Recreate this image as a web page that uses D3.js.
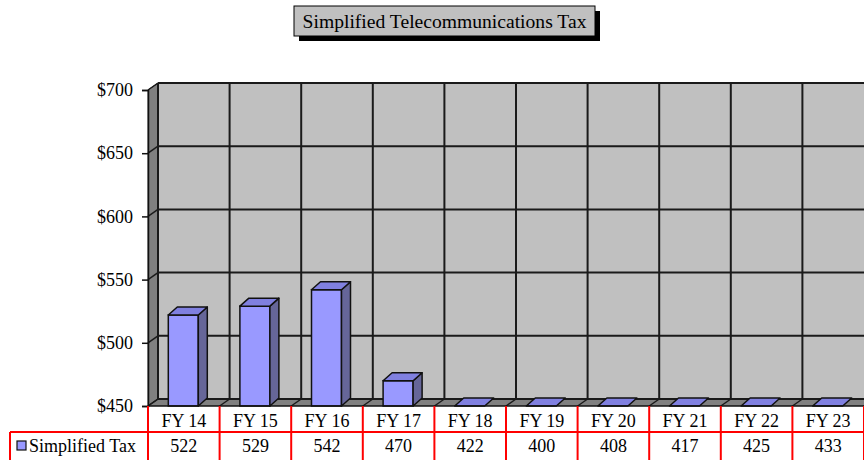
<!DOCTYPE html>
<html>
<head>
<meta charset="utf-8">
<script src="https://cdn.jsdelivr.net/npm/d3@7"></script>
<style>
  body { margin: 0; background: #fff; }
  svg { display: block; }
</style>
</head>
<body>
<div id="chart"></div>
<script>
(function(d3){

  // data
  var categories = ['FY 14', 'FY 15', 'FY 16', 'FY 17', 'FY 18', 'FY 19', 'FY 20', 'FY 21', 'FY 22', 'FY 23'],
      taxValues = [522, 529, 542, 470, 422, 400, 408, 417, 425, 433],
      seriesName = 'Simplified Tax',
      yTicks = [450, 500, 550, 600, 650, 700],
      title = 'Simplified Telecommunications Tax';

  var W = 864, H = 460,
      font = '"Liberation Serif", "Times New Roman", serif',
      wallDx = 10, wallDy = -7,
      barDx = 9, barDy = -8,
      catW = 71.6,
      left = 148;

  var svg = d3.select('#chart').append('svg')
      .attr('width', W)
      .attr('height', H);

  var x = d3.scaleBand()
      .domain(categories)
      .range([left, left + catW * categories.length])
      .paddingInner(0)
      .paddingOuter(0);

  var y = d3.scaleLinear()
      .domain([450, 700])
      .range([406, 90]);

  var y0 = y.domain()[0], y1 = y.domain()[1];
  var right = x.range()[1];

  /**
   * Walls and floor.
   */
  // back wall
  svg.append('rect')
      .attr('x', left + wallDx)
      .attr('y', y(y1) + wallDy)
      .attr('width', right - left + 20)
      .attr('height', y(y0) - y(y1))
      .attr('fill', '#c0c0c0');

  // left wall
  svg.append('polygon')
      .attr('points', [[left, y(y1)], [left + wallDx, y(y1) + wallDy],
                       [left + wallDx, y(y0) + wallDy], [left, y(y0)]].join(' '))
      .attr('fill', '#808080')
      .attr('stroke', '#222')
      .attr('stroke-width', 1);

  // floor
  svg.append('polygon')
      .attr('points', [[left, y(y0)], [left + wallDx, y(y0) + wallDy],
                       [right + 40, y(y0) + wallDy], [right + 40, y(y0)]].join(' '))
      .attr('fill', '#808080');

  // horizontal gridlines on back wall + diagonals on left wall
  svg.selectAll('.hgrid')
      .data(yTicks)
    .enter().append('line')
      .attr('x1', left + wallDx)
      .attr('x2', right + 40)
      .attr('y1', function(d) { return y(d) + wallDy; })
      .attr('y2', function(d) { return y(d) + wallDy; })
      .attr('stroke', '#1a1a1a')
      .attr('stroke-width', 2);

  svg.selectAll('.hdiag')
      .data(yTicks)
    .enter().append('line')
      .attr('x1', left)
      .attr('x2', left + wallDx)
      .attr('y1', function(d) { return y(d); })
      .attr('y2', function(d) { return y(d) + wallDy; })
      .attr('stroke', '#1a1a1a')
      .attr('stroke-width', 1.5);

  // vertical gridlines on back wall + diagonals on floor
  var bounds = categories.map(function(c) { return x(c); }).concat([right]);

  svg.selectAll('.vgrid')
      .data(bounds)
    .enter().append('line')
      .attr('x1', function(d) { return d + wallDx; })
      .attr('x2', function(d) { return d + wallDx; })
      .attr('y1', y(y1) + wallDy)
      .attr('y2', y(y0) + wallDy)
      .attr('stroke', '#1a1a1a')
      .attr('stroke-width', 2);

  svg.selectAll('.vdiag')
      .data(bounds)
    .enter().append('line')
      .attr('x1', function(d) { return d; })
      .attr('x2', function(d) { return d + wallDx; })
      .attr('y1', y(y0))
      .attr('y2', y(y0) + wallDy)
      .attr('stroke', '#1a1a1a')
      .attr('stroke-width', 1.5);

  /**
   * Bars (3D): front, side, top. Values under the axis minimum sit flat on the floor.
   */
  var barW = 30;
  var bars = svg.selectAll('.bar')
      .data(taxValues)
    .enter().append('g')
      .attr('class', 'bar');

  bars.each(function(d, i) {
    var g = d3.select(this),
        bx = x(categories[i]) + (catW - barW) / 2 - 0.5,
        top = y(Math.max(d, y0)),
        bottom = y(y0);

    if (d > y0) {
      g.append('rect')
          .attr('x', bx).attr('y', top)
          .attr('width', barW).attr('height', bottom - top)
          .attr('fill', '#9999ff')
          .attr('stroke', '#111').attr('stroke-width', 1.5);
      g.append('polygon')
          .attr('points', [[bx + barW, top], [bx + barW + barDx, top + barDy],
                           [bx + barW + barDx, bottom + barDy], [bx + barW, bottom]].join(' '))
          .attr('fill', '#666699')
          .attr('stroke', '#111').attr('stroke-width', 1.5)
          .attr('stroke-linejoin', 'round');
    }
    g.append('polygon')
        .attr('points', [[bx, top], [bx + barDx, top + barDy],
                         [bx + barW + barDx, top + barDy], [bx + barW, top]].join(' '))
        .attr('fill', '#8080e0')
        .attr('stroke', '#111').attr('stroke-width', 1.5)
        .attr('stroke-linejoin', 'round');
  });

  // floor front edge and axis line
  svg.append('line')
      .attr('x1', left).attr('x2', W)
      .attr('y1', y(y0)).attr('y2', y(y0))
      .attr('stroke', '#111').attr('stroke-width', 1.5);

  /**
   * Y axis.
   */
  var yAxis = svg.append('g')
      .attr('transform', 'translate(' + left + ',0)')
      .call(d3.axisLeft(y)
        .tickValues(yTicks)
        .tickSize(6)
        .tickPadding(9)
        .tickFormat(function(d) { return '$' + d; }));

  yAxis.select('.domain')
      .attr('stroke', '#111')
      .attr('stroke-width', 1.5);
  yAxis.selectAll('.tick line')
      .attr('stroke', '#111')
      .attr('stroke-width', 1.5);
  yAxis.selectAll('.tick text')
      .attr('fill', '#000')
      .style('font-family', font)
      .style('font-size', '18px');

  /**
   * Data table.
   */
  var rowTop = y(y0), rowMid = 432, rowBot = 460;
  var table = svg.append('g');

  table.selectAll('.cat')
      .data(categories)
    .enter().append('text')
      .attr('x', function(d) { return x(d) + catW / 2; })
      .attr('y', 427)
      .attr('text-anchor', 'middle')
      .style('font-family', font)
      .style('font-size', '18px')
      .text(function(d) { return d; });

  table.selectAll('.val')
      .data(taxValues)
    .enter().append('text')
      .attr('x', function(d, i) { return x(categories[i]) + catW / 2; })
      .attr('y', 452)
      .attr('text-anchor', 'middle')
      .style('font-family', font)
      .style('font-size', '18px')
      .text(function(d) { return d; });

  table.selectAll('.vline')
      .data(bounds)
    .enter().append('line')
      .attr('x1', function(d) { return d; })
      .attr('x2', function(d) { return d; })
      .attr('y1', rowTop)
      .attr('y2', rowBot + 2)
      .attr('stroke', '#ff0000')
      .attr('stroke-width', 2);

  table.append('line')
      .attr('x1', 10).attr('x2', W)
      .attr('y1', rowMid).attr('y2', rowMid)
      .attr('stroke', '#ff0000').attr('stroke-width', 2);

  table.append('line')
      .attr('x1', 10).attr('x2', 10)
      .attr('y1', rowMid).attr('y2', rowBot + 2)
      .attr('stroke', '#ff0000').attr('stroke-width', 2);

  // legend key
  table.append('rect')
      .attr('x', 17).attr('y', 441)
      .attr('width', 9).attr('height', 9)
      .attr('fill', '#9999ff')
      .attr('stroke', '#111').attr('stroke-width', 1.2);

  table.append('text')
      .attr('x', 29)
      .attr('y', 452)
      .style('font-family', font)
      .style('font-size', '18px')
      .text(seriesName);

  /**
   * Title box with shadow.
   */
  var tb = {x: 294, y: 6, w: 301, h: 30};
  svg.append('rect')
      .attr('x', tb.x + 5).attr('y', tb.y + 5)
      .attr('width', tb.w).attr('height', tb.h)
      .attr('fill', '#000');
  svg.append('rect')
      .attr('x', tb.x).attr('y', tb.y)
      .attr('width', tb.w).attr('height', tb.h)
      .attr('fill', '#c0c0c0')
      .attr('stroke', '#000').attr('stroke-width', 1);
  svg.append('text')
      .attr('x', tb.x + tb.w / 2)
      .attr('y', tb.y + 22)
      .attr('text-anchor', 'middle')
      .style('font-family', font)
      .style('font-size', '19.6px')
      .text(title);

})(d3);
</script>
</body>
</html>
